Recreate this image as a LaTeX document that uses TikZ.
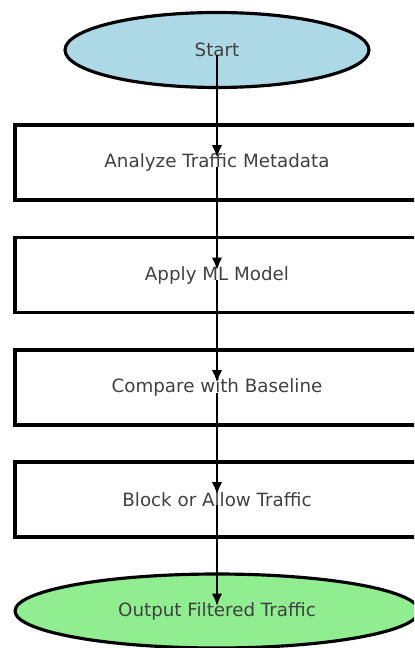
\documentclass[tikz,border=0pt]{standalone}
\usepackage{fontspec}
\setmainfont{DejaVu Sans}
\usetikzlibrary{
  shapes.geometric,
  arrows.meta
}
\definecolor{startblue}{HTML}{ADD8E6}
\definecolor{endgreen}{HTML}{90EE90}
\definecolor{labelgray}{HTML}{404040}
\tikzset{
  stepnode/.style={
    draw, line width=1.8pt, text=labelgray,
    font=\fontsize{10.4}{12}\selectfont, inner sep=0pt
  },
  termnode/.style={
    stepnode, ellipse, minimum height=1.5cm
  },
  procbox/.style={
    stepnode, rectangle, minimum width=8.08cm, minimum height=1.5cm
  },
  flowline/.style={
    line width=1.2pt, -{Latex[length=7pt,width=6pt]}
  }
}

\begin{document}
\begin{tikzpicture}[x=0.02cm,y=-0.02cm]
\useasboundingbox (0,0) rectangle (414,648);
\clip (0,0) rectangle (414,648);
\node [termnode, fill=startblue, minimum width=6.08cm] (start) at (217,50) {Start};
\node [procbox] (analyze) at (217,162.5) {Analyze Traffic Metadata};
\node [procbox] (apply) at (217,275) {Apply ML Model};
\node [procbox] (compare) at (217,387.5) {Compare with Baseline};
\node [procbox] (block) at (217,499.5) {Block or Allow Traffic};
\node [termnode, fill=endgreen, minimum width=8.08cm, minimum height=1.48cm] (output) at (217,611) {Output Filtered Traffic};
% connectors, drawn over the labels
\foreach \from/\to in {start/analyze, analyze/apply, apply/compare, compare/block, block/output}
  \draw [flowline] ([yshift=-0.1cm]\from.center) -- ([yshift=0.1cm]\to.center);
\end{tikzpicture}
\end{document}
